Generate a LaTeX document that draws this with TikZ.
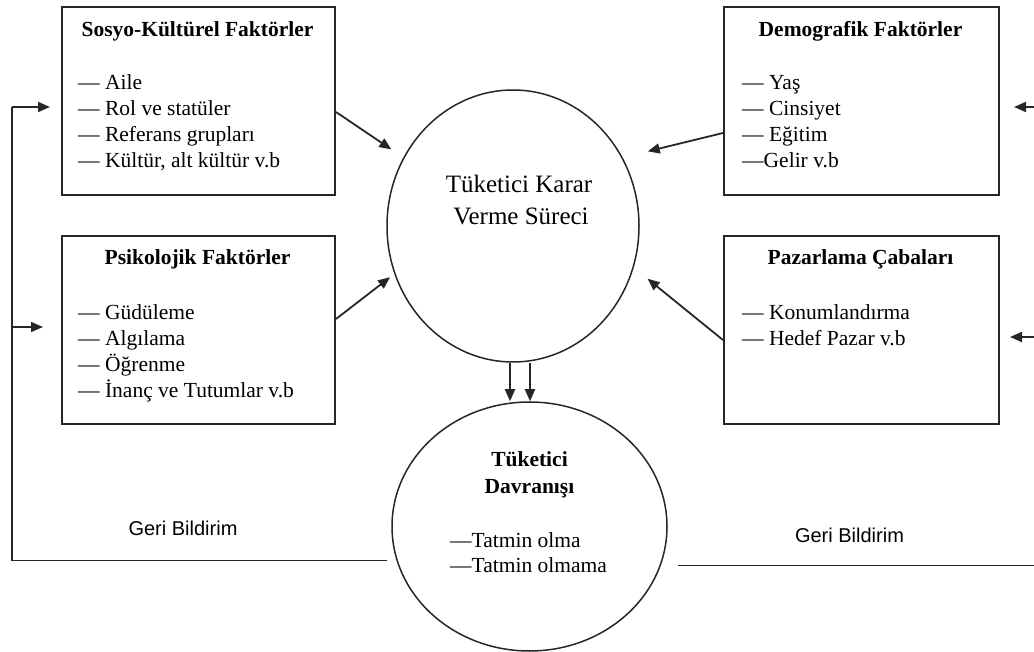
\documentclass[tikz,border=0pt]{standalone}
\usepackage{fontspec}
\setmainfont{Liberation Serif}
\newfontfamily\labelsans{Liberation Sans}
\usetikzlibrary{shapes.geometric,arrows.meta,calc}

\tikzset{
  factorbox/.style={draw=black!85, line width=2pt, rectangle, inner sep=0pt, anchor=north west},
  bubble/.style={draw=black!85, line width=1.5pt, ellipse, inner sep=0pt},
  heading/.style={font=\fontsize{21.5pt}{26pt}\selectfont\bfseries, inner sep=0pt, anchor=base},
  entry/.style={font=\fontsize{21.5pt}{26pt}\selectfont, inner sep=0pt, anchor=base west},
  feedlabel/.style={font=\labelsans\fontsize{20pt}{24pt}\selectfont, inner sep=0pt},
  flow/.style={draw=black!85, line width=1.8pt, -{Triangle[length=12pt,width=10pt]}},
  loopline/.style={draw=black!85, line width=1.8pt}
}

\begin{document}
\begin{tikzpicture}[x=1pt, y=-1pt]
\useasboundingbox (0,0) rectangle (1034,652);

% factor boxes
\node[factorbox, minimum width=273pt, minimum height=188pt] (soc) at (61,6) {};
\node[factorbox, minimum width=275pt, minimum height=188pt] (dem) at (723,6) {};
\node[factorbox, minimum width=273pt, minimum height=188pt] (psy) at (61,235) {};
\node[factorbox, minimum width=275pt, minimum height=188pt] (mkt) at (723,235) {};

% box headings
\node[heading] (socT) at (197.5,37) {Sosyo-Kültürel Faktörler};
\node[heading] (demT) at (860.5,37) {Demografik Faktörler};
\node[heading] (psyT) at (197.5,265) {Psikolojik Faktörler};
\node[heading] (mktT) at (860.5,265) {Pazarlama Çabaları};

% box entries
\foreach \t [count=\i] in {— Aile, — Rol ve statüler, — Referans grupları, {— Kültür, alt kültür v.b}}
  \node[entry] (soc-\i) at (78, 64+26*\i) {\t};
\foreach \t [count=\i] in {— Yaş, — Cinsiyet, — Eğitim, —Gelir v.b}
  \node[entry] (dem-\i) at (742, 64+26*\i) {\t};
\foreach \t [count=\i] in {— Güdüleme, — Algılama, — Öğrenme, — İnanç ve Tutumlar v.b}
  \node[entry] (psy-\i) at (78, 294+26*\i) {\t};
\foreach \t [count=\i] in {— Konumlandırma, — Hedef Pazar v.b}
  \node[entry] (mkt-\i) at (742, 294+26*\i) {\t};

% decision process
\node[bubble, minimum width=252pt, minimum height=272pt] (dec) at (513,226) {};
\node[font=\fontsize{25pt}{32pt}\selectfont, inner sep=0pt, anchor=base] (decA) at (519,193) {Tüketici Karar};
\node[font=\fontsize{25pt}{32pt}\selectfont, inner sep=0pt, anchor=base] (decB) at (521,225) {Verme Süreci};

% consumer behaviour
\node[bubble, minimum width=275pt, minimum height=249pt] (beh) at (529.5,526.5) {};
\node[heading] (behA) at (529.5,466) {Tüketici};
\node[heading] (behB) at (529.5,493) {Davranışı};
\node[entry] (beh-1) at (450,547) {—Tatmin olma};
\node[entry] (beh-2) at (450,572) {—Tatmin olmama};

% influences on the decision process
\draw[flow, shorten >=14.5pt] ($(soc.east)+(0,11)$) -- (dec.148.5);
\draw[flow, shorten >=5.4pt] ($(psy.east)+(0,-11)$) -- (dec.202.8);
\draw[flow, shorten >=25.8pt] ($(dem.west)+(0,32)$) -- (dec.32);
\draw[flow, shorten >=17.8pt] ($(mkt.west)+(0,10)$) -- (dec.-19);

% decision leads to behaviour
\draw[flow] ([xshift=-3pt]dec.south) -- ([xshift=-3pt]dec.south |- beh.north);
\draw[flow] ([xshift=17pt]dec.south) -- ([xshift=17pt]dec.south |- beh.north);

% feedback loop, left
\coordinate (fbL1) at (12,560.5);
\coordinate (fbL2) at (12,107);
\coordinate (fbL3) at (12,327);
\draw[loopline] ([xshift=-4pt]beh.west |- fbL1) -- (fbL1) -- (fbL2);
\draw[flow, shorten >=11pt] (fbL2) -- (soc.west |- fbL2);
\draw[flow, shorten >=18pt] (fbL3) -- (psy.west |- fbL3);

% feedback loop, right
\coordinate (fbR1) at (1034,565.5);
\coordinate (fbR2) at (1034,107);
\coordinate (fbR3) at (1034,337);
\draw[loopline] ([xshift=10pt]beh.east |- fbR1) -- (fbR1);
\draw[flow, shorten >=14pt] (fbR2) -- (dem.east |- fbR2);
\draw[flow, shorten >=10pt] (fbR3) -- (mkt.east |- fbR3);

\node[feedlabel] (fbLtxt) at (183,528) {Geri Bildirim};
\node[feedlabel] (fbRtxt) at (849.5,535) {Geri Bildirim};
\end{tikzpicture}
\end{document}
